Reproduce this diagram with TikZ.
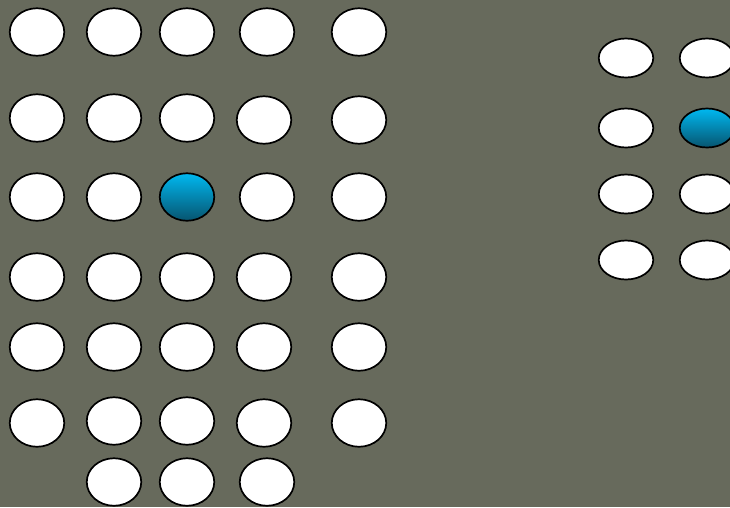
\documentclass[tikz,border=0pt]{standalone}
\usepackage{tikz}
\usetikzlibrary{shapes.geometric}

\definecolor{board}{HTML}{676A5C}
\definecolor{pegtop}{HTML}{00B8F0}
\definecolor{pegbot}{HTML}{07546F}

\tikzset{
  hole/.style={ellipse,draw=black,line width=1.7pt,fill=white,inner sep=0pt,
    minimum width=54.5pt,minimum height=47.5pt},
  smallhole/.style={hole,minimum height=39pt},
  peg/.style={top color=pegtop,bottom color=pegbot}
}

\begin{document}
\begin{tikzpicture}[x=1pt,y=-1pt]
  % Board
  \useasboundingbox (0,0) rectangle (730,507);
  \clip (0,0) rectangle (730,507);
  \fill[board] (0,0) rectangle (730,507);

  % Left board, rows 1-2
  \node[hole] (a1) at (37,32) {};  \node[hole] (a2) at (114,32) {};
  \node[hole] (a3) at (187,32) {}; \node[hole] (a4) at (267,32) {};
  \node[hole] (a5) at (359,32) {};
  \node[hole] (b1) at (37,118) {};  \node[hole] (b2) at (114,118) {};
  \node[hole] (b3) at (187,118) {}; \node[hole] (b4) at (264,120) {};
  \node[hole] (b5) at (359,120) {};

  % Row 3 with the peg
  \node[hole] (c1) at (37,197) {};  \node[hole] (c2) at (114,197) {};
  \node[hole,peg] (c3) at (187,197) {}; \node[hole] (c4) at (267,197) {};
  \node[hole] (c5) at (359,197) {};

  % Rows 4-5
  \node[hole] (d1) at (37,277) {};  \node[hole] (d2) at (114,277) {};
  \node[hole] (d3) at (187,277) {}; \node[hole] (d4) at (264,277) {};
  \node[hole] (d5) at (359,277) {};
  \node[hole] (e1) at (37,347) {};  \node[hole] (e2) at (114,347) {};
  \node[hole] (e3) at (187,347) {}; \node[hole] (e4) at (264,347) {};
  \node[hole] (e5) at (359,347) {};

  % Rows 6-7
  \node[hole] (f1) at (37,423) {};  \node[hole] (f2) at (114,421) {};
  \node[hole] (f3) at (187,421) {}; \node[hole] (f4) at (264,423) {};
  \node[hole] (f5) at (359,423) {};
  \node[hole] (g2) at (114,482) {}; \node[hole] (g3) at (187,482) {};
  \node[hole] (g4) at (267,482) {};

  % Right board
  \node[smallhole] (r11) at (626,58) {};  \node[smallhole] (r12) at (707,58) {};
  \node[smallhole] (r21) at (626,128) {}; \node[smallhole,peg] (r22) at (707,128) {};
  \node[smallhole] (r31) at (626,194) {}; \node[smallhole] (r32) at (707,194) {};
  \node[smallhole] (r41) at (626,260) {}; \node[smallhole] (r42) at (707,260) {};
\end{tikzpicture}
\end{document}
